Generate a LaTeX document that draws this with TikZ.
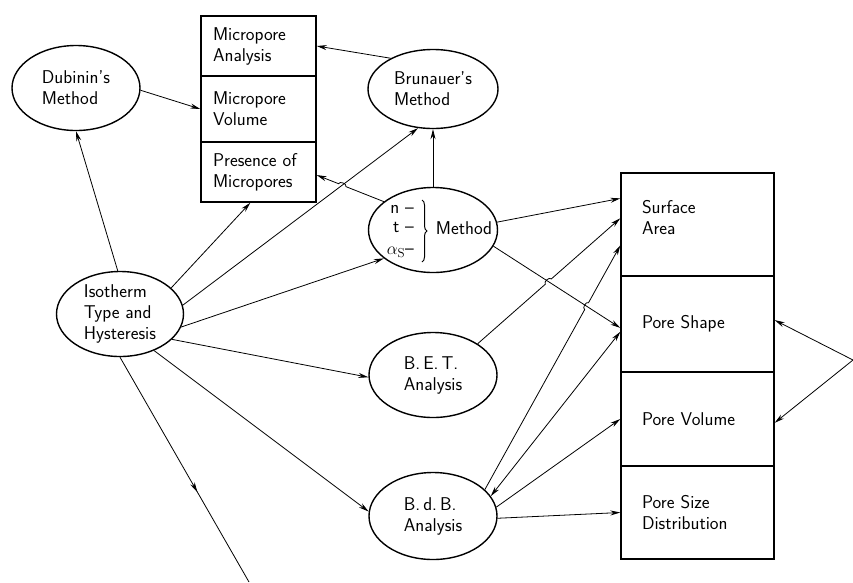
\documentclass[tikz,border=0pt]{standalone}
\usepackage{fontspec}
\usetikzlibrary{shapes.geometric,arrows.meta,calc,intersections,decorations.markings,decorations.pathreplacing}
\begin{document}
\begin{tikzpicture}[x=1pt,y=-1pt,
  every node/.style={font=\sffamily\fontsize{18.5}{21}\selectfont},
  ell/.style={ellipse,draw,line width=1.4pt,inner sep=-6pt,align=left},
  mbox/.style={rectangle,draw,line width=1.4pt,minimum width=115pt,text width=91pt,inner xsep=12pt,inner ysep=0pt,align=left},
  rbox/.style={rectangle,draw,line width=1.4pt,minimum width=153pt,text width=111pt,inner xsep=21pt,inner ysep=0pt,align=left},
  arr/.style={line width=0.8pt,-{Stealth[length=10pt,width=5pt]}},
  darr/.style={line width=0.8pt,{Stealth[length=10pt,width=5pt]}-{Stealth[length=10pt,width=5pt]}},
  ln/.style={line width=0.8pt},
  bracestyle/.style={line width=1pt,decorate,decoration={brace,amplitude=5pt}},
]
\useasboundingbox (0,0) rectangle (853,582);

% ellipses
\node[ell,minimum width=128pt,minimum height=85pt] (dub) at (76,88) {Dubinin's\\Method};
\node[ell,minimum width=130pt,minimum height=79pt] (bru) at (433,89) {Brunauer's\\Method};
\node[ell,minimum width=129pt,minimum height=85pt,inner xsep=-22pt] (nt) at (433,230)
  {\hspace*{13pt}\begin{tabular}{@{}r@{}}n --\\[-2pt] t --\\[1pt] $\alpha_{\mathrm{S}}$--\end{tabular}\hspace{22pt}Method};
\node[ell,minimum width=128pt,minimum height=85pt] (bet) at (433,375) {B.\,E.\,T.\\Analysis};
\node[ell,minimum width=128pt,minimum height=87pt] (bdb) at (433,516) {B.\,d.\,B.\\Analysis};
\node[ell,minimum width=127pt,minimum height=85pt] (iso) at (120,314) {Isotherm\\Type and\\Hysteresis};
\draw[bracestyle] ($(nt.center)+(-11,-30)$) -- ($(nt.center)+(-11,32)$);

% boxes
\node[mbox,minimum height=60pt] (ma) at (258.5,46) {Micropore\\Analysis};
\node[mbox,minimum height=66pt] (mv) at (258.5,109) {Micropore\\Volume};
\node[mbox,minimum height=60pt] (pm) at (258.5,172) {Presence of\\Micropores};
\node[rbox,minimum height=103pt] (sa) at (697.5,224.5) {Surface\\Area\rule[-14pt]{0pt}{0pt}};
\node[rbox,minimum height=96pt] (ps) at (697.5,324) {Pore Shape};
\node[rbox,minimum height=94pt] (pv) at (697.5,419) {Pore Volume};
\node[rbox,minimum height=93pt] (psd) at (697.5,512.5) {Pore Size\\Distribution};

\coordinate (apex) at (853,360);
\coordinate (tail) at (249,582);

% connectors
\draw[arr] (dub.-2) -- (mv.west);
\draw[arr] (bru.144) -- (ma.east);
\draw[arr] (iso.93) -- (dub.south);
\draw[arr] (iso.27) -- ($(pm.south west)!0.43!(pm.south east)$);
\draw[arr,name path=isobru] (iso.8) -- (bru.249);
\draw[arr] (iso.-12) -- (nt.210);
\draw[arr] (iso.-26) -- (bet.182);
\draw[arr] (iso.-47) -- (bdb.176);
\draw[ln,decoration={markings,mark=at position 0.6 with {\arrow{Stealth[length=10pt,width=5pt]}}},postaction={decorate}] (iso.south) -- (tail);
\draw[arr] (nt.north) -- (bru.south);

\coordinate (pmT) at ($(pm.north east)!0.55!(pm.south east)$);
\path[name path=ntpm] (nt.150) -- (pmT);
\path[name intersections={of=isobru and ntpm,by=h1}];
\draw[arr] (nt.150) -- ($(h1)!4pt!(nt.150)$) to[bend right=90] ($(h1)!4pt!(pmT)$) -- (pmT);

\draw[arr] (nt.7) -- ($(sa.north west)!0.25!(sa.south west)$);
\coordinate (psT1) at ($(ps.north west)!0.54!(ps.south west)$);
\draw[arr,name path=ntps] (nt.-15) -- (psT1);

\coordinate (saT2) at ($(sa.north west)!0.44!(sa.south west)$);
\path[name path=betsa] (bet.35) -- (saT2);
\path[name intersections={of=ntps and betsa,by=h2}];
\draw[arr] (bet.35) -- ($(h2)!4pt!(bet.35)$) to[bend left=90] ($(h2)!4pt!(saT2)$) -- (saT2);

\coordinate (saT3) at ($(sa.north west)!0.70!(sa.south west)$);
\path[name path=bdbsa] (bdb.27) -- (saT3);
\path[name intersections={of=ntps and bdbsa,by=h3}];
\draw[arr] (bdb.27) -- ($(h3)!4pt!(bdb.27)$) to[bend left=90] ($(h3)!4pt!(saT3)$) -- (saT3);

\draw[darr] (bdb.19) -- ($(ps.north west)!0.58!(ps.south west)$);
\draw[arr] (bdb.8) -- (pv.west);
\draw[arr] (bdb.-2) -- (psd.west);
\draw[arr] (apex) -- ($(ps.north east)!0.46!(ps.south east)$);
\draw[arr] (apex) -- ($(pv.north east)!0.54!(pv.south east)$);
\end{tikzpicture}
\end{document}
